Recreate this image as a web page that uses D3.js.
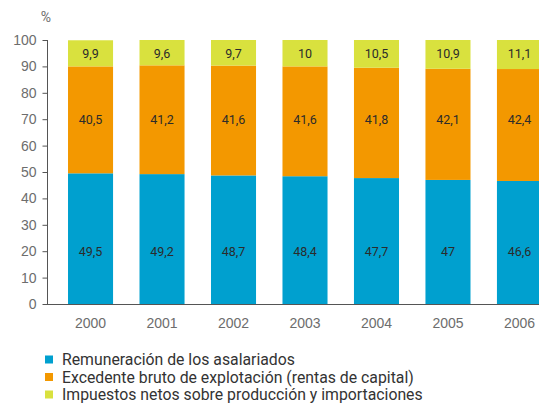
<!DOCTYPE html>
<html>
<head>
<meta charset="utf-8">
<script src="https://cdn.jsdelivr.net/npm/d3@7"></script>
<style>
  body { margin: 0; background: #fff; }
  svg { display: block; }
</style>
</head>
<body>
<div id="chart"></div>
<script>
const years = ["2000", "2001", "2002", "2003", "2004", "2005", "2006"];
const remuneracion = [49.5, 49.2, 48.7, 48.4, 47.7, 47, 46.6];
const excedente = [40.5, 41.2, 41.6, 41.6, 41.8, 42.1, 42.4];
const impuestos = [9.9, 9.6, 9.7, 10, 10.5, 10.9, 11.1];
const seriesNames = [
  "Remuneración de los asalariados",
  "Excedente bruto de explotación (rentas de capital)",
  "Impuestos netos sobre producción y importaciones"
];
const yTicks = [0, 10, 20, 30, 40, 50, 60, 70, 80, 90, 100];
// level (in %) where each series' value label sits
const labelLevels = [20, 70, 95];

const colors = ["#00a0cf", "#f39800", "#d9e13e"];
const width = 539, height = 405;

const rows = years.map((y, i) => ({
  year: y, s0: remuneracion[i], s1: excedente[i], s2: impuestos[i]
}));
const keys = ["s0", "s1", "s2"];
const stacked = d3.stack().keys(keys)(rows);

const x = d3.scaleBand()
  .domain(years)
  .range([48, 562])
  .paddingInner(0.37)
  .paddingOuter(0.28);

const y = d3.scaleLinear()
  .domain([0, 100])
  .range([304, 40]);

const svg = d3.select("#chart").append("svg")
  .attr("width", width)
  .attr("height", height)
  .style("font-family", "Roboto, 'DejaVu Sans', sans-serif");

// bars
const layer = svg.selectAll(".layer")
  .data(stacked)
  .enter()
  .append("g")
  .attr("fill", (d, i) => colors[i]);

layer.selectAll("rect")
  .data(d => d)
  .enter()
  .append("rect")
  .attr("x", d => x(d.data.year))
  .attr("width", x.bandwidth())
  .attr("y", d => y(Math.min(d[1], 100)))
  .attr("height", d => y(d[0]) - y(Math.min(d[1], 100)));

// value labels
stacked.forEach((s, si) => {
  svg.append("g")
    .selectAll("text")
    .data(s)
    .enter()
    .append("text")
    .attr("x", d => x(d.data.year) + x.bandwidth() / 2)
    .attr("y", y(labelLevels[si]))
    .attr("dy", "0.35em")
    .attr("text-anchor", "middle")
    .style("font-family", "'Liberation Sans Narrow', 'Roboto', sans-serif")
    .style("font-size", "12.5px")
    .attr("fill", "#2b2b2b")
    .text(d => String(d.data[keys[si]]).replace(".", ","));
});

// y axis
const yAxis = svg.append("g")
  .attr("transform", "translate(47.5,0)")
  .call(d3.axisLeft(y).tickValues(yTicks).tickSize(5).tickPadding(6));
yAxis.select(".domain").attr("stroke", "#555").attr("d", `M0,${y(100)}V${y(0)}`);
yAxis.selectAll(".tick line").attr("stroke", "#555");
yAxis.selectAll(".tick text")
  .attr("fill", "#6d6d6d")
  .style("font-size", "14px");

svg.append("text")
  .attr("x", 46)
  .attr("y", 22)
  .attr("text-anchor", "middle")
  .attr("fill", "#6d6d6d")
  .style("font-size", "14px")
  .text("%");

// x axis
const xAxis = svg.append("g")
  .attr("transform", `translate(0,${y(0) + 0.5})`)
  .call(d3.axisBottom(x).tickSize(0).tickPadding(14));
xAxis.select(".domain").attr("stroke", "#555").attr("d", `M47,0H${width}`);
xAxis.selectAll(".tick text")
  .attr("fill", "#6d6d6d")
  .style("font-size", "14px");

// legend
const legend = svg.append("g")
  .selectAll("g")
  .data(seriesNames)
  .enter()
  .append("g")
  .attr("transform", (d, i) => `translate(45,${359.5 + i * 17.5})`);

legend.append("rect")
  .attr("x", 0)
  .attr("y", -4)
  .attr("width", 8)
  .attr("height", 8)
  .attr("fill", (d, i) => colors[i]);

legend.append("text")
  .attr("x", 17)
  .attr("dy", "0.35em")
  .attr("fill", "#333")
  .style("font-size", "15.8px")
  .text(d => d);
</script>
</body>
</html>
